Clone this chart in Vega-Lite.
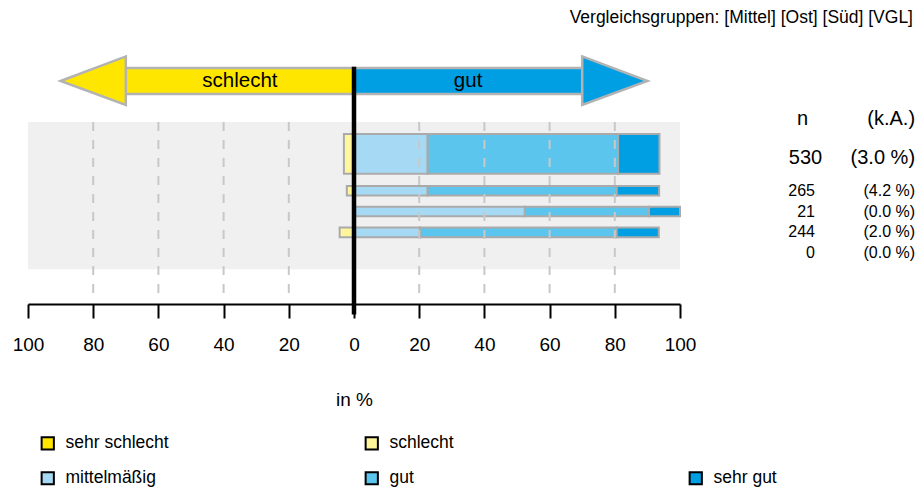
{
  "$schema": "https://vega.github.io/schema/vega-lite/v6.json",
  "width": 652,
  "height": 264,
  "autosize": {"type": "none"},
  "padding": {"left": 28, "top": 40, "right": 237, "bottom": 184},
  "background": "#ffffff",
  "config": {"font": "Liberation Sans", "view": {"stroke": null}, "text": {"font": "Liberation Sans", "color": "#000000"}},
  "title": {"text": "Vergleichsgruppen: [Mittel] [Ost] [Süd] [VGL]", "anchor": "end", "frame": "group", "fontSize": 17.5, "fontWeight": "normal", "font": "Liberation Sans", "color": "#000000", "dx": 233, "offset": 14},
  "datasets": {
    "bars": [
      {"group": "Gesamt", "cat": "schlecht", "from": -3.1, "to": 0},
      {"group": "Gesamt", "cat": "mittelmäßig", "from": 0, "to": 22.6},
      {"group": "Gesamt", "cat": "gut", "from": 22.6, "to": 81.0},
      {"group": "Gesamt", "cat": "sehr gut", "from": 81.0, "to": 93.7},
      {"group": "Mittel", "row": 1, "cat": "schlecht", "from": -2.2, "to": 0},
      {"group": "Mittel", "row": 1, "cat": "mittelmäßig", "from": 0, "to": 22.6},
      {"group": "Mittel", "row": 1, "cat": "gut", "from": 22.6, "to": 80.6},
      {"group": "Mittel", "row": 1, "cat": "sehr gut", "from": 80.6, "to": 93.6},
      {"group": "Ost", "row": 2, "cat": "mittelmäßig", "from": 0, "to": 52.4},
      {"group": "Ost", "row": 2, "cat": "gut", "from": 52.4, "to": 90.5},
      {"group": "Ost", "row": 2, "cat": "sehr gut", "from": 90.5, "to": 100},
      {"group": "Süd", "row": 3, "cat": "schlecht", "from": -4.4, "to": 0},
      {"group": "Süd", "row": 3, "cat": "mittelmäßig", "from": 0, "to": 20.2},
      {"group": "Süd", "row": 3, "cat": "gut", "from": 20.2, "to": 80.6},
      {"group": "Süd", "row": 3, "cat": "sehr gut", "from": 80.6, "to": 93.5}
    ],
    "groups": [
      {"group": "Gesamt", "n": "530", "ka": "(3.0 %)"},
      {"group": "Mittel", "row": 1, "n": "265", "ka": "(4.2 %)"},
      {"group": "Ost", "row": 2, "n": "21", "ka": "(0.0 %)"},
      {"group": "Süd", "row": 3, "n": "244", "ka": "(2.0 %)"},
      {"group": "VGL", "row": 4, "n": "0", "ka": "(0.0 %)"}
    ],
    "arrowShaft": [
      {"side": "schlecht", "from": -70, "to": 0, "top": -4.89, "bot": -3.65},
      {"side": "gut", "from": 0, "to": 70, "top": -4.89, "bot": -3.65}
    ],
    "arrowHead": [
      {"side": "schlecht", "x": -90, "top": -4.27, "bot": -4.27},
      {"side": "schlecht", "x": -70, "top": -5.45, "bot": -3.12},
      {"side": "gut", "x": 70, "top": -5.45, "bot": -3.12},
      {"side": "gut", "x": 90, "top": -4.27, "bot": -4.27}
    ],
    "grid": [{"v": -80}, {"v": -60}, {"v": -40}, {"v": -20}, {"v": 20}, {"v": 40}, {"v": 60}, {"v": 80}]
  },
  "layer": [
    {
      "data": {"values": [{}]},
      "mark": {"type": "rect", "color": "#F0F0F0"},
      "encoding": {
        "x": {"datum": -100, "type": "quantitative", "scale": {"domain": [-100, 100], "nice": false, "zero": false},
          "axis": {"values": [-100, -80, -60, -40, -20, 0, 20, 40, 60, 80, 100], "labelExpr": "abs(datum.value)", "grid": false,
            "domainColor": "#000000", "domainWidth": 2, "tickColor": "#000000", "tickWidth": 2, "tickSize": 14,
            "labelFontSize": 19, "labelPadding": 17, "labelColor": "#000000", "labelFlush": false, "labelOverlap": false, "labelFont": "Liberation Sans",
            "title": "in %", "titleFontSize": 19, "titleFontWeight": "normal", "titleColor": "#000000", "titleFont": "Liberation Sans", "titleY": 101, "titleBaseline": "alphabetic"}},
        "x2": {"datum": 100},
        "y": {"datum": -2.3, "type": "quantitative", "scale": {"domain": [-6, 6.2], "nice": false, "zero": false, "reverse": true}, "axis": null},
        "y2": {"datum": 4.77}
      }
    },
    {
      "data": {"name": "arrowShaft"},
      "mark": {"type": "rect", "stroke": "#B3B3B3", "strokeWidth": 2.5},
      "encoding": {
        "x": {"field": "from", "type": "quantitative"},
        "x2": {"field": "to"},
        "y": {"field": "top", "type": "quantitative", "axis": null},
        "y2": {"field": "bot"},
        "fill": {"field": "side", "type": "nominal", "scale": {"domain": ["schlecht", "gut"], "range": ["#FFE600", "#009FE3"]}, "legend": null}
      }
    },
    {
      "data": {"name": "arrowHead"},
      "mark": {"type": "area", "stroke": "#B3B3B3", "strokeWidth": 2.5, "strokeJoin": "miter", "orient": "vertical"},
      "encoding": {
        "x": {"field": "x", "type": "quantitative"},
        "y": {"field": "top", "type": "quantitative", "axis": null, "stack": null},
        "y2": {"field": "bot"},
        "fill": {"field": "side", "type": "nominal", "scale": {"domain": ["schlecht", "gut"], "range": ["#FFE600", "#009FE3"]}, "legend": null}
      }
    },
    {
      "data": {"values": [{}]},
      "mark": {"type": "text", "text": "schlecht", "fontSize": 20.5, "align": "center", "baseline": "middle", "color": "#000000"},
      "encoding": {"x": {"datum": -35, "type": "quantitative"}, "y": {"datum": -4.27, "type": "quantitative", "axis": null}}
    },
    {
      "data": {"values": [{}]},
      "mark": {"type": "text", "text": "gut", "fontSize": 20.5, "align": "center", "baseline": "middle", "color": "#000000"},
      "encoding": {"x": {"datum": 35, "type": "quantitative"}, "y": {"datum": -4.27, "type": "quantitative", "axis": null}}
    },
    {
      "data": {"name": "bars"},
      "transform": [{"filter": "datum.group === 'Gesamt'"}],
      "mark": {"type": "rect", "stroke": "#AAAAAA", "strokeWidth": 2},
      "encoding": {
        "x": {"field": "from", "type": "quantitative"},
        "x2": {"field": "to"},
        "y": {"datum": -1.72, "type": "quantitative", "axis": null},
        "y2": {"datum": 0.19},
        "color": {"field": "cat", "type": "nominal", "scale": {"domain": ["sehr schlecht", "schlecht", " ", "mittelmäßig", "gut", "sehr gut"], "range": ["#FFE600", "#FFF59A", "#FFFFFF", "#A6DAF4", "#5BC5ED", "#009FE3"]}}
      }
    },
    {
      "data": {"name": "bars"},
      "transform": [{"filter": "datum.group !== 'Gesamt'"}],
      "mark": {"type": "bar", "orient": "horizontal", "size": 9.6, "stroke": "#AAAAAA", "strokeWidth": 2},
      "encoding": {
        "x": {"field": "from", "type": "quantitative"},
        "x2": {"field": "to"},
        "y": {"field": "row", "type": "quantitative", "axis": null},
        "color": {"field": "cat", "type": "nominal", "scale": {"domain": ["sehr schlecht", "schlecht", " ", "mittelmäßig", "gut", "sehr gut"], "range": ["#FFE600", "#FFF59A", "#FFFFFF", "#A6DAF4", "#5BC5ED", "#009FE3"]},
          "legend": {"orient": "none", "legendX": 11, "legendY": 394.5, "direction": "horizontal", "columns": 3, "gridAlign": "all", "padding": 0, "title": null,
            "symbolType": "square", "symbolSize": 150, "symbolStrokeColor": "#000000", "symbolStrokeWidth": 2,
            "labelFontSize": 17.5, "labelFont": "Liberation Sans", "labelColor": "#000000", "labelOffset": 9, "columnPadding": 192, "rowPadding": 14,
            "encode": {"symbols": {"update": {"opacity": {"signal": "datum.value === ' ' ? 0 : 1"}}}}}}
      }
    },
    {
      "data": {"name": "grid"},
      "mark": {"type": "rule", "color": "#C8C8C8", "strokeWidth": 2, "strokeDash": [9, 9]},
      "encoding": {"x": {"field": "v", "type": "quantitative"}, "y": {"datum": -2.3, "type": "quantitative", "axis": null}, "y2": {"datum": 6.2}}
    },
    {
      "data": {"values": [{}]},
      "mark": {"type": "rule", "color": "#000000", "strokeWidth": 4.5},
      "encoding": {"x": {"datum": 0, "type": "quantitative"}, "y": {"datum": -4.95, "type": "quantitative", "axis": null}, "y2": {"datum": 6.95}}
    },
    {
      "data": {"values": [{}]},
      "mark": {"type": "text", "text": "n", "fontSize": 20, "align": "right", "baseline": "middle", "color": "#000000"},
      "encoding": {"x": {"datum": 139.3, "type": "quantitative"}, "y": {"datum": -2.44, "type": "quantitative", "axis": null}}
    },
    {
      "data": {"values": [{}]},
      "mark": {"type": "text", "text": "(k.A.)", "fontSize": 20, "align": "right", "baseline": "middle", "color": "#000000"},
      "encoding": {"x": {"datum": 172.1, "type": "quantitative"}, "y": {"datum": -2.44, "type": "quantitative", "axis": null}}
    },
    {
      "data": {"name": "groups"},
      "transform": [{"filter": "datum.group === 'Gesamt'"}],
      "layer": [
        {"mark": {"type": "text", "fontSize": 20, "align": "right", "baseline": "middle", "color": "#000000"},
          "encoding": {"text": {"field": "n"}, "x": {"datum": 143.6, "type": "quantitative"}, "y": {"datum": -0.59, "type": "quantitative", "axis": null}}},
        {"mark": {"type": "text", "fontSize": 20, "align": "right", "baseline": "middle", "color": "#000000"},
          "encoding": {"text": {"field": "ka"}, "x": {"datum": 172.1, "type": "quantitative"}, "y": {"datum": -0.59, "type": "quantitative", "axis": null}}}
      ]
    },
    {
      "data": {"name": "groups"},
      "transform": [{"filter": "datum.group !== 'Gesamt'"}],
      "layer": [
        {"mark": {"type": "text", "fontSize": 16, "align": "right", "baseline": "middle", "color": "#000000"},
          "encoding": {"text": {"field": "n"}, "x": {"datum": 141.4, "type": "quantitative"}, "y": {"field": "row", "type": "quantitative", "axis": null}}},
        {"mark": {"type": "text", "fontSize": 16, "align": "right", "baseline": "middle", "color": "#000000"},
          "encoding": {"text": {"field": "ka"}, "x": {"datum": 172.1, "type": "quantitative"}, "y": {"field": "row", "type": "quantitative", "axis": null}}}
      ]
    }
  ]
}
